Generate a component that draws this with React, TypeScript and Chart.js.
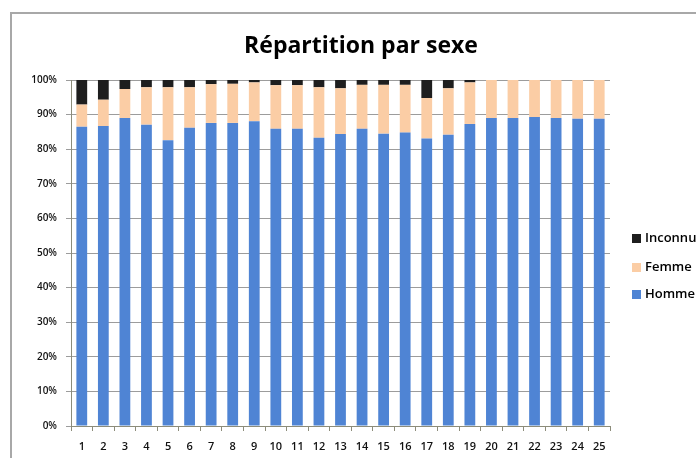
import React, { useEffect, useRef } from "react";
import { Chart, registerables } from "chart.js";

Chart.register(...registerables);

const categories = ["1","2","3","4","5","6","7","8","9","10","11","12","13","14","15","16","17","18","19","20","21","22","23","24","25"];
const homme = [86.5, 86.7, 89.0, 87.1, 82.6, 86.2, 87.6, 87.6, 88.1, 85.9, 85.9, 83.3, 84.4, 85.9, 84.5, 84.8, 83.1, 84.2, 87.3, 89.0, 89.0, 89.3, 89.0, 88.8, 88.8];
const femme = [6.4, 7.6, 8.4, 10.8, 15.3, 11.7, 11.2, 11.3, 11.2, 12.6, 12.6, 14.6, 13.2, 12.7, 14.1, 13.8, 11.7, 13.4, 12.0, 11.0, 11.0, 10.7, 11.0, 11.2, 11.2];
const inconnu = [7.1, 5.7, 2.6, 2.1, 2.1, 2.1, 1.2, 1.1, 0.7, 1.5, 1.5, 2.1, 2.4, 1.4, 1.4, 1.4, 5.2, 2.4, 0.7, 0, 0, 0, 0, 0, 0];
const title = "Répartition par sexe";

const BLUE = "#4F84D4";
const PEACH = "#FBCDA5";
const BLACK = "#1E1E1E";
const FONT = "'Open Sans', sans-serif";

const framePlugin = {
  id: "frame",
  beforeDraw(chart: any) {
    const ctx = chart.ctx;
    ctx.save();
    ctx.fillStyle = "#ffffff";
    ctx.fillRect(0, 0, chart.width, chart.height);
    ctx.strokeStyle = "#A8A8A8";
    ctx.lineWidth = 2;
    ctx.beginPath();
    ctx.moveTo(11, chart.height + 2);
    ctx.lineTo(11, 13);
    ctx.lineTo(chart.width + 2, 13);
    ctx.stroke();
    ctx.fillStyle = "#000000";
    ctx.font = "bold 23px " + FONT;
    ctx.textAlign = "center";
    ctx.textBaseline = "middle";
    ctx.fillText(title, 361, 46);
    ctx.restore();
  },
  afterDraw(chart: any) {
    const ctx = chart.ctx;
    ctx.save();
    const items = [
      { label: "Inconnu", color: BLACK, y: 238 },
      { label: "Femme", color: PEACH, y: 267 },
      { label: "Homme", color: BLUE, y: 294 },
    ];
    ctx.font = "600 13px " + FONT;
    ctx.textBaseline = "middle";
    ctx.textAlign = "left";
    for (const it of items) {
      ctx.fillStyle = it.color;
      ctx.fillRect(632, it.y - 4, 9, 9);
      ctx.fillStyle = "#000000";
      ctx.fillText(it.label, 645, it.y);
    }
    ctx.restore();
  },
};

export default function App() {
  const ref = useRef<HTMLCanvasElement | null>(null);
  useEffect(() => {
    if (!ref.current) return;
    const chart = new Chart(ref.current, {
      type: "bar",
      data: {
        labels: categories,
        datasets: [
          { label: "Homme", data: homme, backgroundColor: BLUE, barPercentage: 0.5, categoryPercentage: 1 },
          { label: "Femme", data: femme, backgroundColor: PEACH, barPercentage: 0.5, categoryPercentage: 1 },
          { label: "Inconnu", data: inconnu, backgroundColor: BLACK, barPercentage: 0.5, categoryPercentage: 1 },
        ],
      },
      options: {
        animation: false,
        responsive: false,
        layout: { padding: { left: 11, top: 80, right: 86, bottom: 4 } },
        plugins: { legend: { display: false }, title: { display: false }, tooltip: { enabled: false } },
        scales: {
          x: {
            stacked: true,
            grid: { drawOnChartArea: false, drawTicks: true, tickLength: 5, offset: true, color: "#8C8C7A" },
            border: { color: "#8C8C7A" },
            ticks: { color: "#111", font: { family: FONT, size: 11, weight: "600" }, padding: 9, maxRotation: 0, autoSkip: false },
            afterFit(scale: any) { scale.height = 28; },
          },
          y: {
            stacked: true,
            min: 0,
            max: 100,
            grid: { color: "#9C9C9C", tickLength: 5 },
            border: { color: "#8C8C7A" },
            ticks: {
              stepSize: 10,
              color: "#111",
              font: { family: FONT, size: 10, weight: "600" },
              padding: 9,
              callback: (v: any) => v + "%",
            },
            afterFit(scale: any) { scale.width = 60; },
          },
        },
      },
      plugins: [framePlugin],
    });
    return () => chart.destroy();
  }, []);
  return (
    <div style={{ position: "absolute", left: 0, top: 0, width: 696, height: 458, background: "#fff" }}>
      <canvas ref={ref} width={696} height={458} />
    </div>
  );
}
